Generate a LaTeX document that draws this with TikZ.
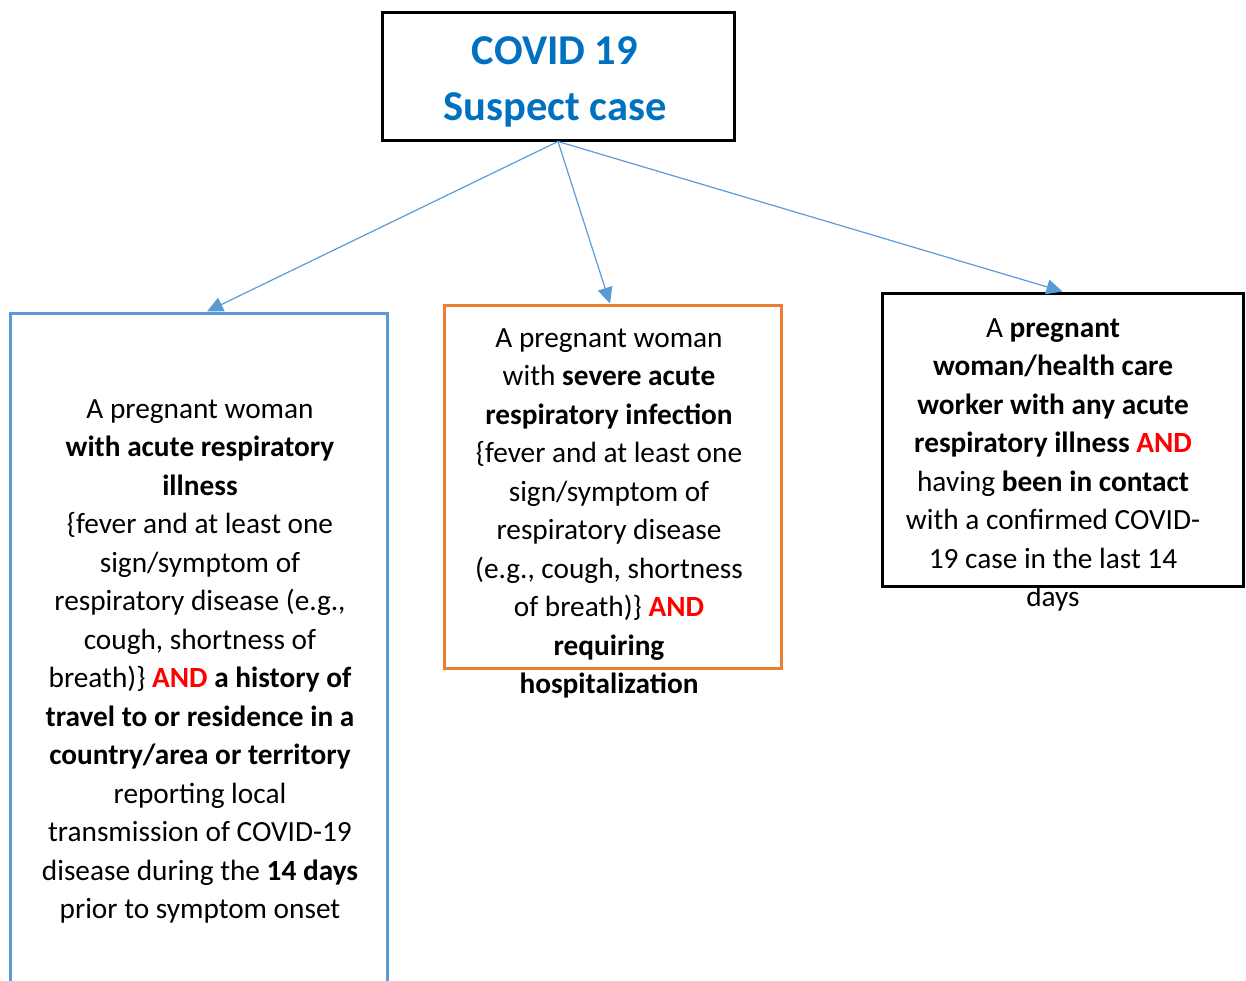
\documentclass[tikz,border=0pt]{standalone}
\usepackage{fontspec}
\setmainfont{Carlito}
\usetikzlibrary{arrows.meta,calc}
\definecolor{titleblue}{HTML}{0070C0}
\definecolor{andred}{HTML}{FF0000}
\definecolor{lineblue}{HTML}{5B9BD5}
\definecolor{boxorange}{HTML}{ED7D31}
\newcommand{\AND}{\textcolor{andred}{\textbf{AND}}}
\newcommand{\firstline}{\rule{0pt}{20pt}}
\begin{document}
\begin{tikzpicture}[x=1pt,y=-1pt,
  box/.style={draw, line width=3pt, inner sep=0pt},
  bodytext/.style={anchor=north, inner sep=0pt, align=center,
    font=\fontsize{29.3}{38.5}\selectfont},
  conn/.style={draw=lineblue, line width=1.2pt,
    -{Triangle[length=16pt,width=15pt]}}]
\useasboundingbox (0,0) rectangle (1246,980);
% boxes
\node[box, draw=black, minimum width=352pt, minimum height=128pt] (top) at (558,76) {};
\node[box, draw=lineblue, minimum width=377pt, minimum height=687pt] (lbox) at (198.5,656.5) {};
\node[box, draw=boxorange, minimum width=337pt, minimum height=363pt] (mbox) at (612.5,486.5) {};
\node[box, draw=black, minimum width=361pt, minimum height=293pt] (rbox) at (1062.5,439.5) {};
% title
\node[anchor=north, inner sep=0pt, align=center, text=titleblue,
  font=\fontsize{42.5}{56}\selectfont\bfseries] (title) at (555,34)
  {\rule{0pt}{30pt}COVID 19\\Suspect case};
% texts
\node[bodytext] (ltext) at (200,398) {\firstline A pregnant woman\\
  \textbf{with acute respiratory}\\ \textbf{illness}\\
  \{fever and at least one\\ sign/symptom of\\
  respiratory disease (e.g.,\\ cough, shortness of\\
  breath)\} \AND{} \textbf{a history of}\\
  \textbf{travel to or residence in a}\\
  \textbf{country/area or territory}\\
  reporting local\\ transmission of COVID-19\\
  disease during the \textbf{14 days}\\ prior to symptom onset};
\node[bodytext] (mtext) at (609,327) {\firstline A pregnant woman\\
  with \textbf{severe acute}\\ \textbf{respiratory infection}\\
  \{fever and at least one\\ sign/symptom of\\ respiratory disease\\
  (e.g., cough, shortness\\ of breath)\} \AND\\
  \textbf{requiring}\\ \textbf{hospitalization}};
\node[bodytext] (rtext) at (1053,317) {\firstline A \textbf{pregnant}\\
  \textbf{woman/health care}\\ \textbf{worker with any acute}\\
  \textbf{respiratory illness} \AND\\
  having \textbf{been in contact}\\ with a confirmed COVID-\\
  19 case in the last 14\\ days};
% connectors
\draw[conn] (top.south) -- ($(lbox.north)+(8.5,0)$);
\draw[conn] (top.south) -- ($(mbox.north)+(-2.5,0)$);
\draw[conn] (top.south) -- (rbox.north);
\end{tikzpicture}
\end{document}
